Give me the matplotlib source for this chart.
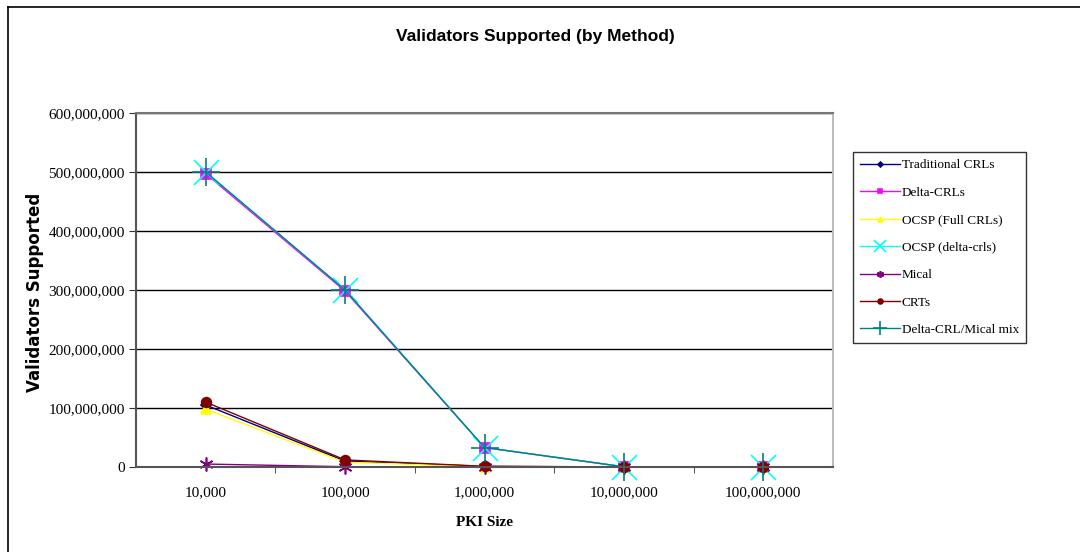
import matplotlib.pyplot as plt
import matplotlib.ticker as mticker
import numpy as np

pki_sizes = ["10,000", "100,000", "1,000,000", "10,000,000", "100,000,000"]

traditional_crls = [105e6, 10e6, 1e6, 0.1e6, 0.01e6]
delta_crls = [497e6, 298e6, 33e6, 0.4e6, 0.04e6]
ocsp_full_crls = [98e6, 8e6, 0.8e6, 0.08e6, 0.008e6]
ocsp_delta_crls = [500e6, 300e6, 33e6, 0.4e6, 0.04e6]
mical = [5e6, 0.5e6, 0.05e6, 0.005e6, 0.0005e6]
crts = [110e6, 12e6, 1.2e6, 0.12e6, 0.012e6]
delta_mical_mix = [500e6, 300e6, 33e6, 0.4e6, 0.04e6]

# name, values, colour, marker, marker size
series = [
    ("Traditional CRLs", traditional_crls, "#000080", "D", 5),
    ("Delta-CRLs", delta_crls, "#FF00FF", "s", 7),
    ("OCSP (Full CRLs)", ocsp_full_crls, "#FFFF00", "^", 7),
    ("OCSP (delta-crls)", ocsp_delta_crls, "#00FFFF", "x", 18),
    ("Mical", mical, "#800080", (6, 2, 0), 10),
    ("CRTs", crts, "#800000", "o", 7),
    ("Delta-CRL/Mical mix", delta_mical_mix, "#008080", "+", 20),
]

fig = plt.figure(figsize=(10.8, 5.52), dpi=100)
ax = fig.add_axes([136 / 1080, 1 - 467 / 552, 697 / 1080, 354 / 552])

x = np.arange(len(pki_sizes))
for name, vals, color, marker, ms in series:
    ax.plot(x, vals, color=color, marker=marker, markersize=ms, linewidth=1,
            markeredgecolor=color, markerfacecolor=color, markeredgewidth=1.2,
            label=name, clip_on=False)

ax.set_xlim(-0.5, len(pki_sizes) - 0.5)
ax.set_ylim(0, 600e6)
ax.set_yticks(np.arange(0, 600e6 + 1, 100e6))
ax.yaxis.set_major_formatter(mticker.FuncFormatter(lambda v, p: f"{v:,.0f}"))
ax.set_xticks(x)
ax.set_xticklabels(pki_sizes)
ax.set_xticks(np.arange(0.5, len(pki_sizes) - 0.5, 1), minor=True)
ax.tick_params(axis="x", which="major", length=0, pad=14)
ax.tick_params(axis="x", which="minor", length=4, direction="out", color="#333333")
ax.tick_params(axis="y", length=5, direction="out", color="#333333", pad=3)
for lab in ax.get_xticklabels() + ax.get_yticklabels():
    lab.set_fontfamily("Liberation Serif")
    lab.set_fontsize(11)

ax.grid(axis="y", color="black", linewidth=1)
ax.set_axisbelow(True)
ax.spines["left"].set_color("#555555")
ax.spines["left"].set_linewidth(1.5)
ax.spines["bottom"].set_color("#555555")
ax.spines["bottom"].set_linewidth(1.5)
ax.spines["top"].set_color("#777777")
ax.spines["top"].set_linewidth(1.5)
ax.spines["right"].set_color("#bbbbbb")
ax.spines["right"].set_linewidth(1.5)

fig.text(535 / 1080, 1 - 37 / 552, "Validators Supported (by Method)", ha="center", va="center",
         fontsize=12.5, fontweight="bold", family="Liberation Sans")
fig.text(35 / 1080, 1 - 292 / 552, "Validators Supported", ha="center", va="center",
         rotation=90, fontsize=12, fontweight="bold", family="DejaVu Sans")
fig.text(485 / 1080, 1 - 522 / 552, "PKI Size", ha="center", va="center",
         fontsize=11, fontweight="bold", family="Liberation Serif")

leg = fig.legend(loc="upper left", bbox_to_anchor=(853 / 1080, 1 - 152 / 552),
                 prop={"family": "Liberation Serif", "size": 9.5}, frameon=True,
                 fancybox=False, edgecolor="black", handlelength=3.0, handletextpad=0.15,
                 labelspacing=1.15, borderpad=0.55, markerscale=0.5, borderaxespad=0)
leg.get_frame().set_linewidth(1)

# outer chart border
fig.add_artist(plt.Line2D([8 / 1080, 8 / 1080], [0, 1 - 7 / 552], color="black", lw=1.2,
                          transform=fig.transFigure))
fig.add_artist(plt.Line2D([8 / 1080, 1], [1 - 7 / 552, 1 - 7 / 552], color="black", lw=1.2,
                          transform=fig.transFigure))

fig.savefig("out.png", dpi=100)
